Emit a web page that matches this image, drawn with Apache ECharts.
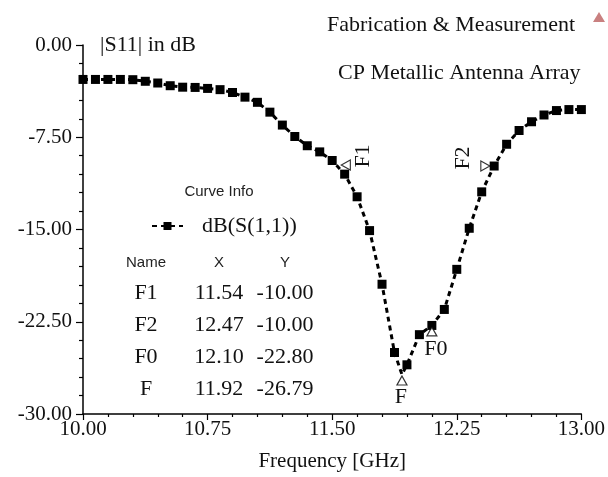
<!DOCTYPE html>
<html>
<head>
<meta charset="utf-8">
<script src="https://cdn.jsdelivr.net/npm/echarts@6/dist/echarts.min.js"></script>
<style>
  html, body { margin: 0; padding: 0; background: #fff; }
  #chart { width: 608px; height: 477px; }
</style>
</head>
<body>
<div id="chart"></div>
<script>
// Measured |S11| of the CP metallic antenna array (symbols every 0.075 GHz)
const freqGHz = [
  10.000, 10.075, 10.150, 10.225, 10.300, 10.375, 10.450, 10.525, 10.600, 10.675,
  10.750, 10.825, 10.900, 10.975, 11.050, 11.125, 11.200, 11.275, 11.350, 11.425,
  11.500, 11.575, 11.650, 11.725, 11.800, 11.875, 11.950, 12.025, 12.100, 12.175,
  12.250, 12.325, 12.400, 12.475, 12.550, 12.625, 12.700, 12.775, 12.850, 12.925,
  13.000
];
const s11dB = [
  -2.80, -2.80, -2.80, -2.80, -2.82, -2.95, -3.09, -3.31, -3.43, -3.45,
  -3.53, -3.63, -3.86, -4.24, -4.66, -5.46, -6.51, -7.44, -8.19, -8.69,
  -9.39, -10.50, -12.34, -15.09, -19.45, -25.00, -26.00, -23.55, -22.80, -21.50,
  -18.24, -14.90, -11.94, -9.84, -8.07, -6.95, -6.24, -5.69, -5.33, -5.25,
  -5.25
];

// Marker readouts (Curve Info table)
const markerNames = ['F1', 'F2', 'F0', 'F'];
const markerFreq = [11.54, 12.47, 12.10, 11.92];
const markerDb = [-10.00, -10.00, -22.80, -26.79];

// Axis tick values
const xTicks = [10.00, 10.75, 11.50, 12.25, 13.00];
const yTicks = [0.00, -7.50, -15.00, -22.50, -30.00];

const seriesName = 'dB(S(1,1))';
const serif = '"Liberation Serif", "Times New Roman", serif';
const sans = '"Liberation Sans", Arial, sans-serif';

// Curve points; the F minimum sits between two symbol points and is added without a symbol
const curve = freqGHz.map((f, i) => ({ value: [f, s11dB[i]] }));
const iMin = markerNames.indexOf('F');
curve.push({ value: [markerFreq[iMin], markerDb[iMin]], symbol: 'none' });
curve.sort((a, b) => a.value[0] - b.value[0]);

// Triangle marker glyph placement per marker
const markerStyle = {
  F1: { rotate: 90, offset: [7, -3] },
  F2: { rotate: -90, offset: [-8, -2] },
  F0: { rotate: 0, offset: [0, 6] },
  F:  { rotate: 0, offset: [0, 6] }
};
const markerData = markerNames.map((n, i) => ({
  name: n,
  value: [markerFreq[i], markerDb[i]],
  symbolRotate: markerStyle[n].rotate,
  symbolOffset: markerStyle[n].offset
}));

const chart = echarts.init(document.getElementById('chart'), null, { renderer: 'canvas' });

const option = {
  backgroundColor: '#fff',
  animation: false,
  title: [
    { text: 'Fabrication & Measurement', left: 322, top: 9,
      textStyle: { fontFamily: serif, fontSize: 22, fontWeight: 'normal', color: '#111' } },
    { text: 'CP Metallic Antenna Array', left: 333, top: 57,
      textStyle: { fontFamily: serif, fontSize: 22, fontWeight: 'normal', color: '#111' } }
  ],
  legend: {
    data: [seriesName],
    left: 146, top: 210,
    itemWidth: 31, itemHeight: 10,
    textStyle: { fontFamily: serif, fontSize: 22, color: '#111', padding: [0, 0, 0, 14] }
  },
  grid: { left: 83, right: 24, top: 45, bottom: 52, containLabel: false },
  xAxis: {
    type: 'value', min: 10, max: 13, interval: 0.75,
    name: 'Frequency [GHz]', nameLocation: 'middle', nameGap: 37,
    nameTextStyle: { fontFamily: serif, fontSize: 21, color: '#111' },
    axisLine: { show: true, onZero: false, lineStyle: { color: '#000', width: 1.5 } },
    axisTick: { show: true, length: 6, lineStyle: { color: '#000', width: 1.2 } },
    minorTick: { show: true, splitNumber: 5, length: 3, lineStyle: { color: '#000', width: 1.2 } },
    axisLabel: { fontFamily: serif, fontSize: 21, color: '#111', margin: 5,
      formatter: v => xTicks.some(t => Math.abs(t - v) < 1e-6) ? v.toFixed(2) : '' },
    splitLine: { show: false }
  },
  yAxis: {
    type: 'value', min: -30, max: 0, interval: 7.5,
    name: '|S11| in dB', nameLocation: 'end', nameGap: 0,
    nameTextStyle: { fontFamily: serif, fontSize: 22, color: '#111', align: 'left',
      verticalAlign: 'middle', padding: [0, 0, 0, 17] },
    axisLine: { show: true, onZero: false, lineStyle: { color: '#000', width: 1.5 } },
    axisTick: { show: true, length: 7, lineStyle: { color: '#000', width: 1.2 } },
    minorTick: { show: true, splitNumber: 5, length: 4, lineStyle: { color: '#000', width: 1.2 } },
    axisLabel: { fontFamily: serif, fontSize: 21, color: '#111', margin: 11,
      formatter: v => yTicks.some(t => Math.abs(t - v) < 1e-6) ? v.toFixed(2) : '' },
    splitLine: { show: false }
  },
  series: [
    {
      name: seriesName,
      type: 'line',
      data: curve,
      symbol: 'rect',
      symbolSize: 9,
      showAllSymbol: true,
      clip: true,
      itemStyle: { color: '#000' },
      lineStyle: { color: '#000', width: 3, type: [5, 4] },
      z: 3
    },
    {
      name: 'markers',
      type: 'scatter',
      data: markerData,
      symbol: 'triangle',
      symbolSize: [10, 9],
      itemStyle: { color: '#fff', borderColor: '#000', borderWidth: 1.2 },
      z: 4
    }
  ]
};
chart.setOption(option);

// Marker labels next to their triangles
const labelPlace = {
  F1: { dx: 24, dy: -12, rot: Math.PI / 2 },
  F2: { dx: -30, dy: -10, rot: Math.PI / 2 },
  F0: { dx: 4, dy: 24, rot: 0 },
  F:  { dx: -1, dy: 23, rot: 0 }
};
const graphics = [];
markerNames.forEach((n, i) => {
  const p = chart.convertToPixel({ gridIndex: 0 }, [markerFreq[i], markerDb[i]]);
  const lp = labelPlace[n];
  graphics.push({
    type: 'text', x: p[0] + lp.dx, y: p[1] + lp.dy, rotation: lp.rot, z: 10,
    style: { text: n, font: '22px ' + serif, fill: '#111', textAlign: 'center', textVerticalAlign: 'middle' }
  });
});

// Curve Info table
const tableCols = [146, 219, 285];
const tableHeader = ['Name', 'X', 'Y'];
graphics.push({
  type: 'text', x: 219, y: 192, z: 10,
  style: { text: 'Curve Info', font: '15px ' + sans, fill: '#222', textAlign: 'center', textVerticalAlign: 'middle' }
});
tableHeader.forEach((h, c) => graphics.push({
  type: 'text', x: tableCols[c], y: 263, z: 10,
  style: { text: h, font: '15px ' + sans, fill: '#222', textAlign: 'center', textVerticalAlign: 'middle' }
}));
markerNames.forEach((n, r) => {
  const row = [n, markerFreq[r].toFixed(2), markerDb[r].toFixed(2)];
  row.forEach((t, c) => graphics.push({
    type: 'text', x: tableCols[c], y: 293 + r * 32, z: 10,
    style: { text: t, font: '22px ' + serif, fill: '#111', textAlign: 'center', textVerticalAlign: 'middle' }
  }));
});

// Small application badge in the top-right corner
graphics.push({
  type: 'polygon', z: 10,
  shape: { points: [[599, 12], [605, 22], [593, 22]] },
  style: { fill: '#c98080' }
});

chart.setOption({ graphic: graphics });
</script>
</body>
</html>
